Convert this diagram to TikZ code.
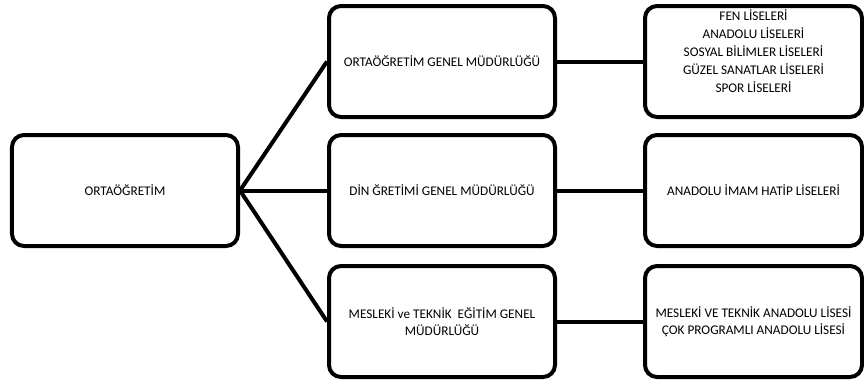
\documentclass[tikz,border=0pt]{standalone}
\usepackage{fontspec}
\setmainfont{Carlito}
\usepackage{tikz}
\usetikzlibrary{
    positioning,
    calc
}
\definecolor{OrgInk}{RGB}{0,0,0}
\tikzset{
  obox/.style  = {draw=OrgInk, line width=4bp, rounded corners=12bp,
                  minimum width=226bp, minimum height=111bp, align=center,
                  inner sep=2bp, font=\fontsize{13.3}{16.5}\selectfont},
  rbox/.style  = {obox, minimum width=217bp},
  olist/.style = {align=center, inner sep=0pt,
                  font=\fontsize{13.3}{18}\selectfont},
  link/.style  = {draw=OrgInk, line width=4bp}
}

\begin{document}
\begin{tikzpicture}[x=1bp, y=-1bp]
        \useasboundingbox (0,0) rectangle (864,385);
        \node[obox] (orta) at (125,190.5) {ORTAÖĞRETİM};
        \node[obox] (ogm) at (442,61.5) {ORTAÖĞRETİM GENEL MÜDÜRLÜĞÜ};
        \node[obox] (dogm) at (442,190.5) {DİN ĞRETİMİ GENEL MÜDÜRLÜĞÜ};
        \node[obox] (mtegm) at (442,321.5) {MESLEKİ ve TEKNİK\ \ EĞİTİM GENEL\\MÜDÜRLÜĞÜ};
        \node[rbox] (lise) at (753.5,61.5) {};
        \node[olist] (liselist) at ([yshift=10bp]lise.center)
            {FEN LİSELERİ\\ANADOLU LİSELERİ\\SOSYAL BİLİMLER LİSELERİ\\GÜZEL SANATLAR LİSELERİ\\SPOR LİSELERİ};
        \node[rbox] (imam) at (753.5,190.5) {ANADOLU İMAM HATİP LİSELERİ};
        \node[rbox] (mesl) at (753.5,321.5) {MESLEKİ VE TEKNİK ANADOLU LİSESİ\\ÇOK PROGRAMLI ANADOLU LİSESİ};
        \draw[link] (orta.east) -- (ogm.west);
        \draw[link] (orta.east) -- (dogm.west);
        \draw[link] (orta.east) -- (mtegm.west);
        \draw[link] (ogm.east) -- (lise.west);
        \draw[link] (dogm.east) -- (imam.west);
        \draw[link] (mtegm.east) -- (mesl.west);
      \end{tikzpicture}
\end{document}
